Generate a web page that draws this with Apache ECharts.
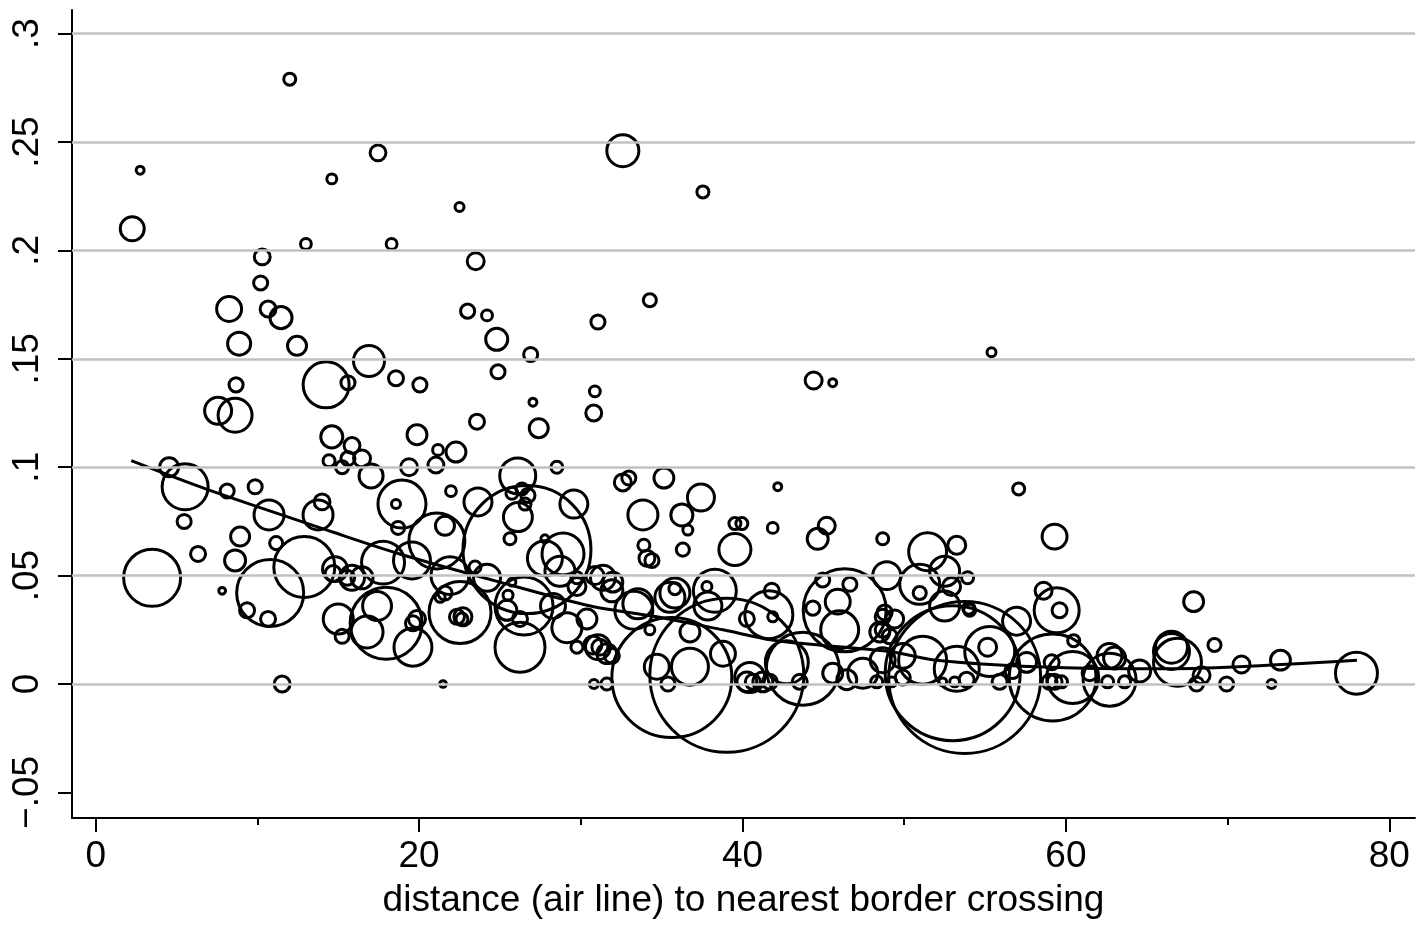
<!DOCTYPE html>
<html>
<head>
<meta charset="utf-8">
<title>distance to border crossing</title>
<script src="https://cdn.jsdelivr.net/npm/echarts@6.0.0/dist/echarts.min.js"></script>
<style>
  html, body { margin: 0; padding: 0; background: #fff; }
  #chart { width: 1421px; height: 930px; }
</style>
</head>
<body>
<div id="chart"></div>
<script>
// distance (km, air line) to nearest border crossing, per municipality
const distance = [
  12.0, 2.75, 17.46, 14.6, 2.26, 13.0, 18.3, 10.3, 10.2, 8.25,
  10.66, 11.46, 32.6, 22.5, 37.55, 23.5, 23.0, 24.2, 31.06, 34.27,
  24.8, 8.87, 12.45, 8.68, 7.57, 8.62, 14.25, 14.6, 14.43, 4.54,
  5.53, 8.13, 9.86, 5.47, 10.72, 14.0, 13.75, 8.93, 11.16, 12.9,
  6.33, 3.49, 7.82, 8.62, 10.79, 9.36, 10.66, 11.53, 26.9, 24.88,
  16.9, 15.6, 18.57, 20.05, 30.87, 30.8, 27.04, 27.4, 23.58, 19.87,
  15.85, 21.17, 22.28, 15.6, 16.47, 15.24, 17.03, 19.38, 21.04, 28.52,
  26.1, 25.74, 26.36, 26.73, 26.55, 26.11, 18.94, 18.57, 21.97, 23.64,
  29.57, 21.6, 18.7, 25.62, 26.67, 21.1, 55.4, 44.4, 45.58, 32.6,
  32.97, 35.14, 42.18, 33.84, 37.43, 36.25, 36.62, 39.53, 39.96, 41.87,
  45.21, 44.65, 48.67, 39.53, 33.9, 34.09, 34.4, 36.31, 51.45, 53.25,
  57.08, 59.3, 48.92, 50.96, 52.5, 52.93, 53.92, 50.96, 52.5, 53.99,
  58.62, 59.43, 59.61, 56.95, 53.74, 53.0, 51.14, 67.9, 66.53, 66.9,
  66.53, 68.39, 68.08, 69.19, 69.94, 70.86, 72.72, 73.27, 77.97, 64.56,
  19.56, 17.77, 14.8, 15.85, 16.47, 14.68, 15.55, 21.91, 24.2, 23.46,
  22.53, 22.34, 22.71, 22.65, 21.6, 21.3, 17.4, 15.0, 15.24, 17.96,
  16.78, 19.62, 19.62, 19.87, 26.24, 26.49, 25.43, 26.24, 25.5, 25.74,
  28.28, 29.76, 29.76, 29.14, 30.38, 29.76, 30.75, 31.18, 21.48, 30.81,
  31.61, 27.78, 27.78, 28.9, 28.71, 31.37, 35.82, 35.82, 37.8, 38.29,
  37.86, 36.75, 41.81, 41.87, 41.63, 31.98, 31.92, 30.87, 33.28, 33.53,
  35.51, 34.27, 31.06, 31.61, 31.92, 35.39, 35.63, 39.03, 34.7, 36.75,
  40.45, 40.27, 40.64, 41.26, 41.69, 40.27, 38.79, 43.54, 43.73, 42.74,
  45.58, 46.45, 46.01, 45.89, 44.96, 46.64, 44.35, 46.32, 48.67, 48.67,
  48.3, 47.44, 49.23, 49.91, 49.91, 48.79, 49.41, 48.49, 49.1, 48.67,
  52.38, 53.12, 53.86, 54.05, 55.16, 55.29, 53.25, 55.9, 56.7, 57.57,
  59.12, 58.99, 59.3, 59.73, 59.18, 60.42, 60.48, 63.01, 62.7, 62.7,
  62.58, 63.63, 61.47
];
// outcome share
const share = [
  .279, .237, .245, .233, .210, .203, .203, .197, .185, .173,
  .173, .169, .246, .220, .227, .195, .172, .170, .167, .177,
  .159, .157, .156, .138, .126, .124, .138, .114, .103, .100,
  .091, .089, .091, .075, .078, .084, .078, .068, .065, .054,
  .060, .049, .043, .057, .042, .034, .030, .000, .152, .144,
  .149, .139, .141, .138, .135, .125, .130, .118, .121, .115,
  .110, .108, .107, .104, .104, .100, .096, .100, .101, .100,
  .096, .088, .090, .087, .083, .077, .083, .083, .089, .084,
  .083, .073, .072, .067, .062, .066, .153, .140, .139, .093,
  .095, .095, .091, .078, .086, .078, .071, .074, .074, .072,
  .073, .067, .067, .062, .064, .058, .057, .062, .061, .064,
  .090, .068, .050, .046, .052, .045, .049, .042, .036, .035,
  .043, .034, .034, .029, .003, .005, .011, .038, .017, .010,
  .015, .004, .000, .018, .000, .009, .000, .011, .005, .006,
  .057, .056, .053, .049, .049, .051, .049, .050, .049, .054,
  .033, .031, .031, .030, .042, .040, .036, .030, .022, .028,
  .024, .017, .028, .030, .017, .036, .034, .030, .041, .047,
  .036, .045, .049, .026, .030, .017, .018, .017, .000, .000,
  .000, .067, .058, .060, .052, .049, .042, .044, .045, .043,
  .036, .024, .043, .031, .032, .047, .043, .050, .034, .037,
  .040, .025, .017, .014, .013, .000, .003, .004, .008, .008,
  .003, .001, .001, .001, .001, .030, .014, .001, .007, .010,
  .005, .002, .025, .038, .048, .046, .035, .034, .031, .025,
  .001, .005, .001, .003, .013, .033, .030, .024, .022, .011,
  .001, .001, .002, .034, .017, .015, .007, .001, .006, .010,
  .010, .001, .001, .001, .003, .003, .020, .012, .013, .002,
  .001, .001, .005
];
// weight (population), circle area is proportional to it
const weight = [
  16, 7, 28, 11, 64, 13, 13, 28, 22, 69,
  28, 54, 114, 9, 16, 32, 22, 13, 22, 19,
  54, 59, 40, 22, 81, 128, 235, 54, 16, 40,
  235, 22, 22, 22, 100, 28, 100, 40, 19, 413,
  25, 361, 5, 49, 499, 25, 25, 28, 22, 22,
  107, 22, 25, 22, 13, 28, 7, 40, 25, 44,
  28, 13, 44, 22, 32, 19, 64, 32, 28, 16,
  144, 16, 16, 22, 16, 93, 256, 9, 13, 87,
  87, 40, 19, 16, 1820, 348, 9, 32, 7, 32,
  22, 44, 7, 100, 81, 54, 11, 16, 16, 13,
  32, 49, 16, 114, 16, 28, 22, 19, 160, 36,
  16, 69, 87, 178, 100, 36, 16, 19, 100, 16,
  32, 225, 25, 87, 2567, 2025, 256, 44, 114, 256,
  144, 32, 22, 19, 22, 32, 9, 44, 196, 54,
  152, 205, 69, 69, 54, 28, 25, 160, 81, 16,
  427, 25, 36, 16, 22, 11, 93, 100, 22, 576,
  114, 160, 25, 32, 278, 374, 44, 25, 11, 7,
  69, 36, 16, 100, 44, 16, 36, 28, 5, 9,
  16, 7, 136, 196, 100, 69, 100, 16, 11, 205,
  87, 44, 25, 11, 256, 44, 54, 36, 160, 100,
  100, 11, 69, 44, 25, 22, 1600, 2635, 69, 152,
  100, 44, 25, 44, 25, 25, 69, 25, 592, 205,
  44, 44, 160, 69, 22, 22, 22, 765, 25, 25,
  16, 100, 11, 25, 69, 25, 36, 44, 25, 69,
  7, 11, 25, 16, 36, 278, 225, 25, 25, 44,
  25, 25, 25, 16, 841, 300, 16, 54, 69, 312,
  16, 16, 25
];
// lowess smoother
const lowessX = [2.2, 6.8, 14.7, 18.8, 25.0, 30.6, 34.7, 38.8, 42.1, 49.1, 52.0, 58.2, 65.8, 70.7, 78.0];
const lowessY = [.103, .090, .070, .060, .047, .036, .031, .025, .020, .015, .011, .008, .007, .008, .011];

// ticks
const xTicks = [0, 20, 40, 60, 80];
const xMinorTicks = [10, 30, 50, 70];
const yTicks = [-0.05, 0, 0.05, 0.1, 0.15, 0.2, 0.25, 0.3];
const yGrid = [0, 0.05, 0.1, 0.15, 0.2, 0.25, 0.3];

const FONT = '"Liberation Sans", Arial, Helvetica, sans-serif';
const X_MIN = -1.466, X_MAX = 81.59;
const Y_MIN = -0.0618, Y_MAX = 0.3109;

function yLabel(v) {
  if (Math.abs(v) < 1e-9) return '0';
  let s = String(+Math.abs(v).toFixed(2)).replace(/^0/, '');
  return (v < 0 ? '\u2212' : '') + s;
}

let chart = echarts.init(document.getElementById('chart'));
chart.setOption({
  animation: false,
  backgroundColor: '#fff',
  grid: { left: 72, right: 6, top: 10, bottom: 112 },
  xAxis: [
    {
      type: 'value',
      position: 'bottom',
      min: X_MIN,
      max: X_MAX,
      axisLine: { show: true, onZero: false, lineStyle: { color: '#000', width: 2 } },
      axisTick: { show: true, customValues: xTicks, length: 14, lineStyle: { color: '#000', width: 2 } },
      axisLabel: { customValues: xTicks, color: '#000', fontSize: 37, fontFamily: FONT, margin: 20 },
      splitLine: { show: false },
      name: 'distance (air line) to nearest border crossing',
      nameLocation: 'middle',
      nameGap: 64,
      nameTextStyle: { color: '#000', fontSize: 37, fontFamily: FONT },
    },
    {
      // minor ticks
      type: 'value',
      position: 'bottom',
      min: X_MIN,
      max: X_MAX,
      axisLine: { show: false, onZero: false },
      axisTick: { show: true, customValues: xMinorTicks, length: 7, lineStyle: { color: '#000', width: 2 } },
      axisLabel: { show: false },
      splitLine: { show: false },
    },
  ],
  yAxis: {
    type: 'value',
    min: Y_MIN,
    max: Y_MAX,
    axisLine: { show: true, onZero: false, lineStyle: { color: '#000', width: 2 } },
    axisTick: { show: true, customValues: yTicks, length: 14, lineStyle: { color: '#000', width: 2 } },
    axisLabel: {
      customValues: yTicks,
      rotate: 90,
      color: '#000',
      fontSize: 37,
      fontFamily: FONT,
      margin: 26,
      formatter: yLabel,
    },
    splitLine: { show: false },
  },
  series: [
    {
      // horizontal grid lines
      type: 'line',
      data: [],
      z: 1,
      silent: true,
      markLine: {
        silent: true,
        symbol: 'none',
        label: { show: false },
        lineStyle: { color: '#c2c2c2', width: 2.6, type: 'solid' },
        data: yGrid.map(v => ({ yAxis: v })),
      },
    },
    {
      type: 'scatter',
      z: 2,
      silent: true,
      data: distance.map((d, i) => [d, share[i], weight[i]]),
      symbol: 'circle',
      symbolSize: function (val) {
        return 3 * Math.sqrt(val[2]);
      },
      itemStyle: { color: 'rgba(0,0,0,0)', borderColor: '#000', borderWidth: 3, opacity: 1 },
    },
    {
      type: 'line',
      z: 3,
      silent: true,
      data: lowessX.map((x, i) => [x, lowessY[i]]),
      symbol: 'none',
      smooth: 0.3,
      lineStyle: { color: '#000', width: 3 },
    },
  ],
});
</script>
</body>
</html>
